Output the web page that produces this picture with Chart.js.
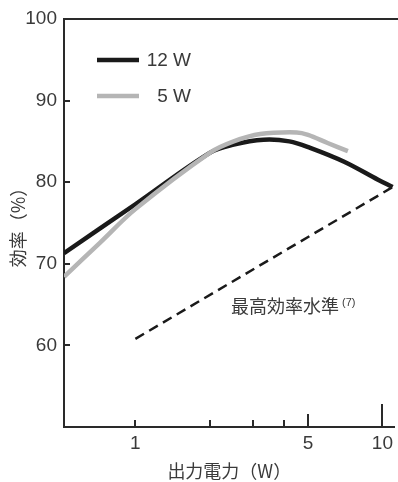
<!DOCTYPE html>
<html>
<head>
<meta charset="utf-8">
<script src="https://cdn.jsdelivr.net/npm/chart.js@4"></script>
<style>
  html, body { margin: 0; padding: 0; background: #fff; }
  #wrap { width: 398px; height: 482px; }
</style>
</head>
<body>
<div id="wrap"><canvas id="effChart"></canvas></div>
<script>
"use strict";

// 12 W adapter
const power12 = [0.514, 1, 2, 2.5, 3.3, 4.2, 5.1, 7.0, 9.6, 11.0];
const eff12 = [71.3, 77.3, 83.6, 84.6, 85.2, 85.0, 84.2, 82.5, 80.3, 79.4];

// 5 W adapter
const power5 = [0.514, 0.72, 1, 2, 2.5, 3.2, 4.5, 5.0, 6.0, 7.25];
const eff5 = [68.4, 72.6, 76.7, 83.6, 85.0, 85.9, 86.1, 85.8, 84.8, 83.8];

// minimum efficiency level (dashed)
const powerLimit = [1, 11.0];
const effLimit = [60.8, 79.4];

const xTicks = [1, 2, 3, 4, 5, 10];
const xTickLabels = ['1', '', '', '', '5', '10'];
const yTicks = [60, 70, 80, 90, 100];

const seriesNames = ['12 W', '5 W'];
const xTitle = '出力電力（W）';
const yTitle = '効率（%）';
const noteText = '最高効率水準';
const noteRef = '(7)';

const INK = '#2a2a2a';
const TEXT = '#3a3a3a';
const LATIN = '"Liberation Sans", Arial, sans-serif';
const CJK = '"Noto Sans CJK JP", sans-serif';

const toPoints = (xs, ys) => xs.map((x, i) => ({x: x, y: ys[i]}));

// inward tick marks, top frame line, legend and note
const decorations = {
    id: 'decorations',
    afterDraw: (chart) => {
        const ctx = chart.ctx;
        const area = chart.chartArea;
        const xs = chart.scales.x;
        const ys = chart.scales.y;
        ctx.save();
        ctx.strokeStyle = INK;
        ctx.lineWidth = 2;

        // top frame
        ctx.beginPath();
        ctx.moveTo(area.left - 1, area.top);
        ctx.lineTo(chart.width, area.top);
        ctx.stroke();

        // x tick marks, longer at 5 and 10
        xTicks.forEach((v) => {
            const px = Math.round(xs.getPixelForValue(v));
            const len = v === 10 ? 23 : (v === 5 ? 13 : 7);
            ctx.beginPath();
            ctx.moveTo(px, area.bottom);
            ctx.lineTo(px, area.bottom - len);
            ctx.stroke();
        });

        // y tick marks
        yTicks.slice(0, -1).forEach((v) => {
            const py = Math.round(ys.getPixelForValue(v));
            ctx.beginPath();
            ctx.moveTo(area.left, py);
            ctx.lineTo(area.left + 6, py);
            ctx.stroke();
        });

        // legend
        const legendColors = ['#1a1a1a', '#b5b5b5'];
        const legendY = [60, 96];
        ctx.lineCap = 'butt';
        ctx.font = '19px ' + LATIN;
        ctx.fillStyle = TEXT;
        ctx.textAlign = 'right';
        ctx.textBaseline = 'middle';
        seriesNames.forEach((name, i) => {
            ctx.strokeStyle = legendColors[i];
            ctx.lineWidth = 4.5;
            ctx.beginPath();
            ctx.moveTo(97, legendY[i]);
            ctx.lineTo(139, legendY[i]);
            ctx.stroke();
            ctx.fillText(name, 191, legendY[i] + 1);
        });

        // note for the dashed line
        ctx.textAlign = 'left';
        ctx.font = '18px ' + CJK;
        ctx.fillText(noteText, 231, 306);
        const w = ctx.measureText(noteText).width;
        ctx.font = '11px ' + LATIN;
        ctx.fillText(noteRef, 231 + w + 3, 303);

        ctx.restore();
    }
};

new Chart(document.getElementById('effChart'), {
    type: 'line',
    data: {
        datasets: [
            {
                label: seriesNames[1],
                data: toPoints(power5, eff5),
                borderColor: '#b5b5b5',
                borderWidth: 4.5,
                tension: 0.35,
                pointRadius: 0,
                fill: false
            },
            {
                label: seriesNames[0],
                data: toPoints(power12, eff12),
                borderColor: '#1a1a1a',
                borderWidth: 4.5,
                tension: 0.35,
                pointRadius: 0,
                fill: false
            },
            {
                label: noteText,
                data: toPoints(powerLimit, effLimit),
                borderColor: '#1a1a1a',
                borderWidth: 2.5,
                borderDash: [10, 6],
                pointRadius: 0,
                fill: false
            }
        ]
    },
    options: {
        responsive: true,
        maintainAspectRatio: false,
        animation: false,
        events: [],
        layout: {padding: {top: 19, right: 1, left: 0, bottom: 0}},
        plugins: {
            legend: {display: false},
            tooltip: {enabled: false}
        },
        scales: {
            x: {
                type: 'logarithmic',
                min: 0.514,
                max: 11.2,
                afterBuildTicks: (scale) => {
                    scale.ticks = xTicks.map(v => ({value: v}));
                },
                afterFit: (scale) => {
                    scale.height = 55;
                },
                grid: {display: false, drawTicks: false},
                border: {display: true, color: INK, width: 2},
                ticks: {
                    autoSkip: false,
                    maxRotation: 0,
                    padding: 5,
                    color: TEXT,
                    font: {family: LATIN, size: 19},
                    callback: function(value, index) {
                        return xTickLabels[index];
                    }
                },
                title: {
                    display: true,
                    text: xTitle,
                    color: TEXT,
                    font: {family: CJK, size: 18},
                    padding: {top: 0, bottom: 0}
                }
            },
            y: {
                type: 'linear',
                min: 50,
                max: 100,
                afterBuildTicks: (scale) => {
                    scale.ticks = yTicks.map(v => ({value: v}));
                },
                afterFit: (scale) => {
                    scale.width = 64;
                },
                grid: {display: false, drawTicks: false},
                border: {display: true, color: INK, width: 2},
                ticks: {
                    padding: 7,
                    color: TEXT,
                    font: {family: LATIN, size: 19}
                },
                title: {
                    display: true,
                    text: yTitle,
                    color: TEXT,
                    font: {family: CJK, size: 18},
                    padding: {top: 7, bottom: 0}
                }
            }
        }
    },
    plugins: [decorations]
});
</script>
</body>
</html>
